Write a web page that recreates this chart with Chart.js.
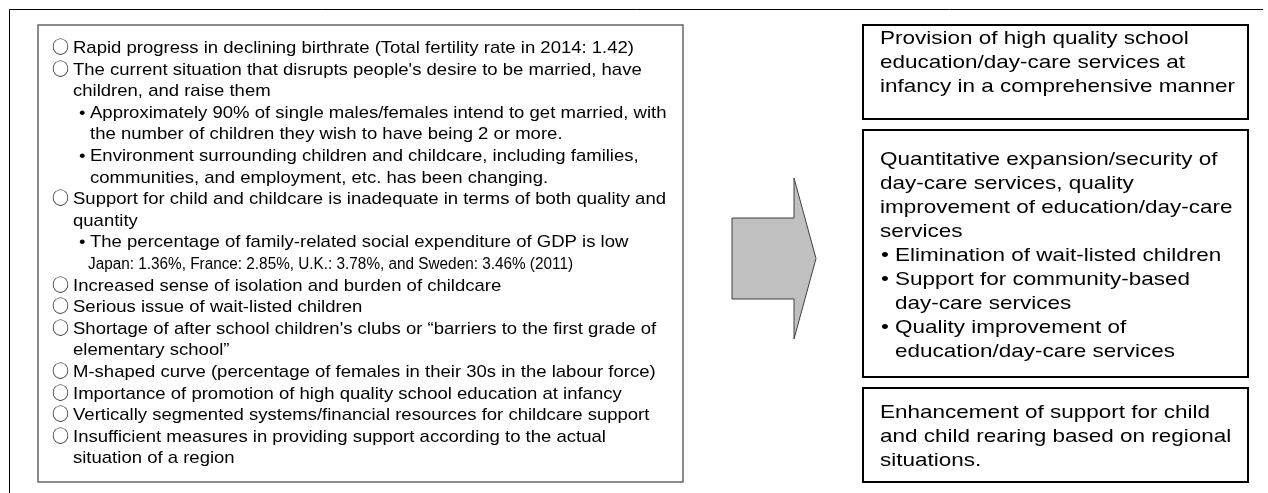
<!DOCTYPE html>
<html>
<head>
<meta charset="utf-8">
<script src="https://cdn.jsdelivr.net/npm/chart.js@4.4.1/dist/chart.umd.min.js"></script>
<style>
  html, body { margin: 0; padding: 0; background: #fff; }
  canvas { display: block; }
</style>
</head>
<body>
<canvas id="diagram" width="1268" height="493"></canvas>
<script>
// Left box: issues. Level 0 = main item, 1 = sub item, 2 = small note
const issueLines = [
  '○Rapid progress in declining birthrate (Total fertility rate in 2014: 1.42)',
  '○The current situation that disrupts people\'s desire to be married, have',
  'children, and raise them',
  '•Approximately 90% of single males/females intend to get married, with',
  'the number of children they wish to have being 2 or more.',
  '•Environment surrounding children and childcare, including families,',
  'communities, and employment, etc. has been changing.',
  '○Support for child and childcare is inadequate in terms of both quality and',
  'quantity',
  '•The percentage of family-related social expenditure of GDP is low',
  'Japan: 1.36%, France: 2.85%, U.K.: 3.78%, and Sweden: 3.46% (2011)',
  '○Increased sense of isolation and burden of childcare',
  '○Serious issue of wait-listed children',
  '○Shortage of after school children\'s clubs or “barriers to the first grade of',
  'elementary school”',
  '○M-shaped curve (percentage of females in their 30s in the labour force)',
  '○Importance of promotion of high quality school education at infancy',
  '○Vertically segmented systems/financial resources for childcare support',
  '○Insufficient measures in providing support according to the actual',
  'situation of a region'
];
const issueLevels = [0, 0, 0, 1, 1, 1, 1, 0, 0, 1, 2, 0, 0, 0, 0, 0, 0, 0, 0, 0];

// Right boxes: measures
const measureProvision = [
  'Provision of high quality school',
  'education/day-care services at',
  'infancy in a comprehensive manner'
];
const measureExpansion = [
  'Quantitative expansion/security of',
  'day-care services, quality',
  'improvement of education/day-care',
  'services',
  '•Elimination of wait-listed children',
  '•Support for community-based',
  '  day-care services',
  '•Quality improvement of',
  '  education/day-care services'
];
const measureRegional = [
  'Enhancement of support for child',
  'and child rearing based on regional',
  'situations.'
];

const W = 1268, H = 493;
const FONT = '"Liberation Sans", Arial, sans-serif';

// layout (page units = pixels of the reference)
const frame = { left: 9, top: 9, right: 1263 };
const leftBox = { x1: 38, y1: 25, x2: 683, y2: 482 };
const leftText = {
  circleX: 52, mainX: 73, bulletX: 79, subX: 90, noteX: 88,
  firstBase: 53, step: 21.6, size: 17,
  refIndex: 7, refWidth: 593, noteWidth: 485
};
const rightBoxes = [
  { lines: measureProvision, y1: 25, y2: 119, firstBase: 43.5 },
  { lines: measureExpansion, y1: 130, y2: 377, firstBase: 165 },
  { lines: measureRegional, y1: 388, y2: 482, firstBase: 418 }
];
const rightText = { x1: 863, x2: 1248, textX: 880, bulletX: 881, subX: 895, step: 24, size: 19, refWidth: 355 };
const arrow = { x0: 732, shaftTop: 218, shaftBot: 299, headX: 794, headTop: 178, headBot: 339, tipX: 816 };

function strip(t) {
  return t.replace(/^[○•]/, '').replace(/^\s+/, '');
}

function drawText(ctx, text, x, y, stretch, maxW) {
  ctx.save();
  ctx.translate(x, y);
  ctx.scale(stretch, 1);
  if (maxW) ctx.fillText(text, 0, 0, maxW / stretch);
  else ctx.fillText(text, 0, 0);
  ctx.restore();
}

const diagramPlugin = {
  id: 'diagram',
  afterDraw(chart) {
    const ctx = chart.ctx;
    const sx = v => chart.scales.x.getPixelForValue(v);
    const sy = v => chart.scales.y.getPixelForValue(v);

    ctx.save();
    // outer frame (top and left edges)
    ctx.strokeStyle = '#000';
    ctx.lineWidth = 1;
    ctx.beginPath();
    ctx.moveTo(sx(frame.right), sy(frame.top) + 0.5);
    ctx.lineTo(sx(frame.left) + 0.5, sy(frame.top) + 0.5);
    ctx.lineTo(sx(frame.left) + 0.5, sy(H));
    ctx.stroke();

    // left box
    ctx.strokeStyle = '#666';
    ctx.lineWidth = 1.5;
    ctx.strokeRect(sx(leftBox.x1), sy(leftBox.y1), sx(leftBox.x2) - sx(leftBox.x1), sy(leftBox.y2) - sy(leftBox.y1));

    // left text
    ctx.fillStyle = '#000';
    ctx.textBaseline = 'alphabetic';
    ctx.font = leftText.size + 'px ' + FONT;
    const refLine = strip(issueLines[leftText.refIndex]);
    const lStretch = leftText.refWidth / ctx.measureText(refLine).width;
    issueLines.forEach((line, i) => {
      const y = sy(leftText.firstBase + i * leftText.step);
      const lvl = issueLevels[i];
      if (lvl === 2) {
        ctx.font = (leftText.size - 1) + 'px "Liberation Sans Narrow", ' + FONT;
        ctx.fillText(line, sx(leftText.noteX), y, leftText.noteWidth);
        ctx.font = leftText.size + 'px ' + FONT;
        return;
      }
      if (line.startsWith('○')) {
        ctx.font = leftText.size + 'px "Noto Sans CJK JP", ' + FONT;
        ctx.fillText('○', sx(leftText.circleX), y);
        ctx.font = leftText.size + 'px ' + FONT;
        drawText(ctx, strip(line), sx(leftText.mainX), y, lStretch);
      } else if (line.startsWith('•')) {
        drawText(ctx, '•', sx(leftText.bulletX), y, lStretch);
        drawText(ctx, strip(line), sx(leftText.subX), y, lStretch);
      } else {
        drawText(ctx, line, sx(lvl === 1 ? leftText.subX : leftText.mainX), y, lStretch);
      }
    });

    // arrow
    ctx.beginPath();
    ctx.moveTo(sx(arrow.x0), sy(arrow.shaftTop));
    ctx.lineTo(sx(arrow.headX), sy(arrow.shaftTop));
    ctx.lineTo(sx(arrow.headX), sy(arrow.headTop));
    ctx.lineTo(sx(arrow.tipX), sy((arrow.headTop + arrow.headBot) / 2));
    ctx.lineTo(sx(arrow.headX), sy(arrow.headBot));
    ctx.lineTo(sx(arrow.headX), sy(arrow.shaftBot));
    ctx.lineTo(sx(arrow.x0), sy(arrow.shaftBot));
    ctx.closePath();
    ctx.fillStyle = '#c0c0c0';
    ctx.fill();
    ctx.strokeStyle = '#404040';
    ctx.lineWidth = 1;
    ctx.stroke();

    // right boxes
    ctx.font = rightText.size + 'px ' + FONT;
    const rStretch = rightText.refWidth / ctx.measureText(measureProvision[2]).width;
    rightBoxes.forEach(box => {
      ctx.strokeStyle = '#000';
      ctx.lineWidth = 2;
      ctx.strokeRect(sx(rightText.x1), sy(box.y1), sx(rightText.x2) - sx(rightText.x1), sy(box.y2) - sy(box.y1));
      ctx.fillStyle = '#000';
      box.lines.forEach((line, i) => {
        const y = sy(box.firstBase + i * rightText.step);
        if (line.startsWith('•')) {
          drawText(ctx, '•', sx(rightText.bulletX), y, rStretch);
          drawText(ctx, strip(line), sx(rightText.subX), y, rStretch);
        } else if (line.startsWith(' ')) {
          drawText(ctx, strip(line), sx(rightText.subX), y, rStretch);
        } else {
          drawText(ctx, line, sx(rightText.textX), y, rStretch);
        }
      });
    });
    ctx.restore();
  }
};

new Chart(document.getElementById('diagram').getContext('2d'), {
  type: 'scatter',
  data: { datasets: [] },
  options: {
    responsive: false,
    animation: false,
    layout: { padding: 0 },
    plugins: { legend: { display: false }, tooltip: { enabled: false } },
    scales: {
      x: { type: 'linear', min: 0, max: W, display: false },
      y: { type: 'linear', min: 0, max: H, reverse: true, display: false }
    }
  },
  plugins: [diagramPlugin]
});
</script>
</body>
</html>
